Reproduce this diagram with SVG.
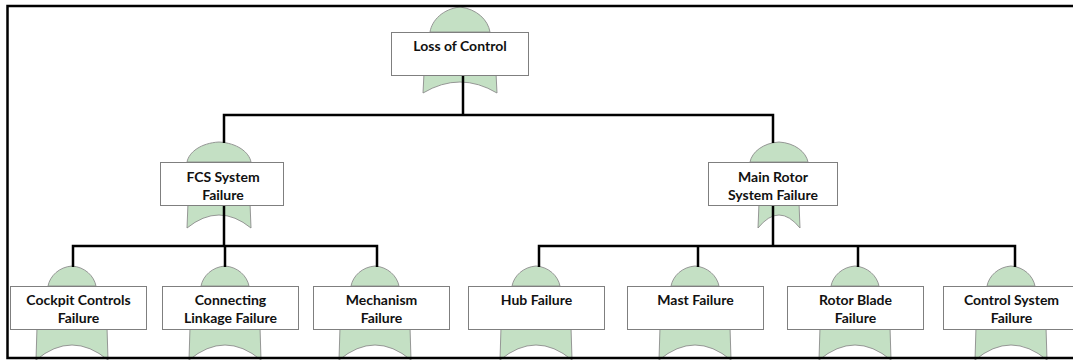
<svg xmlns="http://www.w3.org/2000/svg" width="1073" height="360" viewBox="0 0 1073 360">
  <style>
    .gate { fill: #c4e0c4; stroke: #8c8c8c; stroke-width: 0.9; }
    .box { fill: #ffffff; stroke: #7f7f7f; stroke-width: 1; }
    .lbl { font-family: "Lato", "Liberation Sans", sans-serif; font-weight: 700; font-size: 14px; fill: #111111; text-anchor: middle; }
    .wire { fill: none; stroke: #000000; stroke-width: 2.5; stroke-linejoin: miter; }
    .frame { fill: none; stroke: #000000; stroke-width: 2.5; }
  </style>
  <rect width="1073" height="360" fill="#ffffff"/>

  <!-- top event -->
  <g id="node-loss-of-control">
    <path class="gate" d="M430,32 C432,20 443,9 460,7 C477,9 488,20 490,32 Z"/>
    <path class="gate" d="M424,73 L423,93 Q460,71 497,93 L496,73 Z"/>
    <rect class="box" x="391.5" y="32.5" width="137" height="43"/>
    <text class="lbl" x="460" y="51">Loss of Control</text>
  </g>

  <!-- intermediate events -->
  <g id="node-fcs-system">
    <path class="gate" d="M187,162 C189,152 201,143 219,142 C237,143 249,152 251,162 Z"/>
    <path class="gate" d="M188,203 L187,228 Q219,202 251,228 L250,203 Z"/>
    <rect class="box" x="160.5" y="162.5" width="123" height="43"/>
    <text class="lbl" x="223" y="182">FCS System</text>
    <text class="lbl" x="223" y="200">Failure</text>
  </g>

  <g id="node-main-rotor">
    <path class="gate" d="M750,162 C752,152 763,143 779,142 C795,143 806,152 808,162 Z"/>
    <path class="gate" d="M759,203 L758,228 Q779,202 800,228 L799,203 Z"/>
    <rect class="box" x="708.5" y="162.5" width="129" height="43"/>
    <text class="lbl" x="773" y="182">Main Rotor</text>
    <text class="lbl" x="773" y="200">System Failure</text>
  </g>

  <!-- basic events -->
  <g id="node-cockpit-controls">
    <path class="gate" d="M48,286 C50,276 59,267 72,266 C85,267 94,276 96,286 Z"/>
    <path class="gate" d="M37,327 L36,360 Q72,330 108,360 L107,327 Z"/>
    <rect class="box" x="10.5" y="286.5" width="136" height="43"/>
    <text class="lbl" x="78.5" y="305">Cockpit Controls</text>
    <text class="lbl" x="78.5" y="323">Failure</text>
  </g>

  <g id="node-connecting-linkage">
    <path class="gate" d="M201,286 C203,276 212,267 225,266 C238,267 247,276 249,286 Z"/>
    <path class="gate" d="M190,327 L189,360 Q225,330 261,360 L260,327 Z"/>
    <rect class="box" x="162.5" y="286.5" width="136" height="43"/>
    <text class="lbl" x="230.5" y="305">Connecting</text>
    <text class="lbl" x="230.5" y="323">Linkage Failure</text>
  </g>

  <g id="node-mechanism">
    <path class="gate" d="M351,286 C353,276 362,267 375,266 C388,267 397,276 399,286 Z"/>
    <path class="gate" d="M340,327 L339,360 Q375,330 411,360 L410,327 Z"/>
    <rect class="box" x="313.5" y="286.5" width="136" height="43"/>
    <text class="lbl" x="381.5" y="305">Mechanism</text>
    <text class="lbl" x="381.5" y="323">Failure</text>
  </g>

  <g id="node-hub">
    <path class="gate" d="M512,286 C514,276 523,267 536,266 C549,267 558,276 560,286 Z"/>
    <path class="gate" d="M501,327 L500,360 Q536,330 572,360 L571,327 Z"/>
    <rect class="box" x="468.5" y="286.5" width="136" height="43"/>
    <text class="lbl" x="536.5" y="305">Hub Failure</text>
  </g>

  <g id="node-mast">
    <path class="gate" d="M671,286 C673,276 682,267 695,266 C708,267 717,276 719,286 Z"/>
    <path class="gate" d="M660,327 L659,360 Q695,330 731,360 L730,327 Z"/>
    <rect class="box" x="627.5" y="286.5" width="136" height="43"/>
    <text class="lbl" x="695.5" y="305">Mast Failure</text>
  </g>

  <g id="node-rotor-blade">
    <path class="gate" d="M831,286 C833,276 842,267 855,266 C868,267 877,276 879,286 Z"/>
    <path class="gate" d="M820,327 L819,360 Q855,330 891,360 L890,327 Z"/>
    <rect class="box" x="787.5" y="286.5" width="136" height="43"/>
    <text class="lbl" x="855.5" y="305">Rotor Blade</text>
    <text class="lbl" x="855.5" y="323">Failure</text>
  </g>

  <g id="node-control-system">
    <path class="gate" d="M987,286 C989,276 998,267 1011,266 C1024,267 1033,276 1035,286 Z"/>
    <path class="gate" d="M976,327 L975,360 Q1011,330 1047,360 L1046,327 Z"/>
    <rect class="box" x="943.5" y="286.5" width="136" height="43"/>
    <text class="lbl" x="1011.5" y="305">Control System</text>
    <text class="lbl" x="1011.5" y="323">Failure</text>
  </g>

  <!-- connectors -->
  <g id="connectors">
    <path class="wire" d="M463,76 V115"/>
    <path class="wire" d="M224,143 V115 H773 V143"/>
    <path class="wire" d="M224,206 V246"/>
    <path class="wire" d="M73,267 V246 H377 V267"/>
    <path class="wire" d="M225,246 V267"/>
    <path class="wire" d="M773,206 V246"/>
    <path class="wire" d="M539,267 V246 H1015 V267"/>
    <path class="wire" d="M698,246 V267"/>
    <path class="wire" d="M858,246 V267"/>
  </g>

  <!-- page frame -->
  <path class="frame" d="M1073,6 H7.5 V358 H1073"/>
</svg>
